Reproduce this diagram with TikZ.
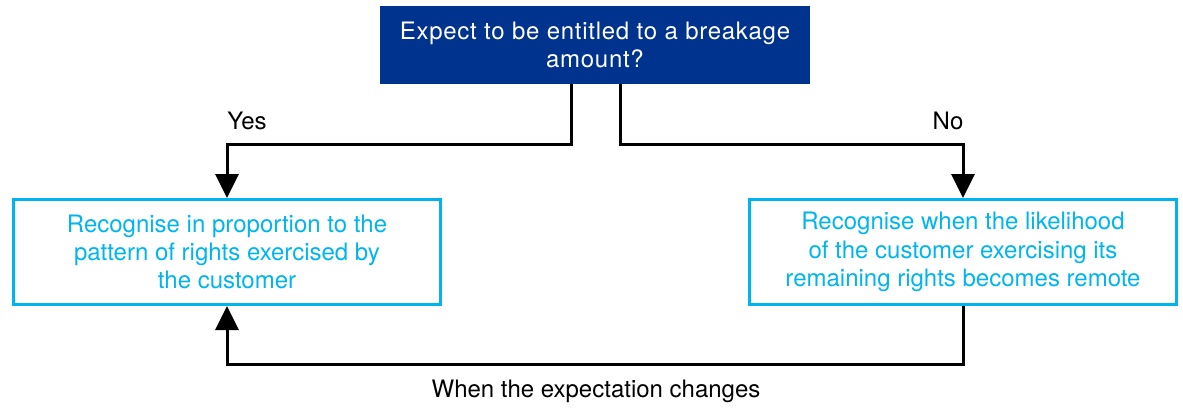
\documentclass[tikz,border=0pt]{standalone}
\usepackage{fontspec}
\setmainfont{TeX Gyre Heros}
\usetikzlibrary{arrows.meta}
\definecolor{headblue}{RGB}{0,51,141}
\definecolor{boxcyan}{RGB}{0,181,239}
\tikzset{
  question/.style={rectangle,fill=headblue,text=white,minimum width=215pt,minimum height=39pt,align=center,font=\fontsize{12}{14}\selectfont\addfontfeature{LetterSpace=3}},
  outcome/.style={rectangle,draw=boxcyan,line width=1.5pt,text=boxcyan,minimum width=213.5pt,minimum height=52.5pt,align=center,font=\fontsize{12}{14.2}\selectfont},
  flow/.style={draw=black,line width=1.5pt,-{Triangle[length=12pt,width=11.5pt]}},
  flowlabel/.style={font=\fontsize{12}{14}\selectfont}
}
\begin{document}
\begin{tikzpicture}[x=0.5pt,y=-0.5pt]
  \useasboundingbox (0,0) rectangle (1183,407);
  % question and the two outcomes
  \node[question] (ask) at (595,45) {Expect to be entitled to a breakage\\amount?};
  \node[outcome] (yes) at (227,252) {Recognise in proportion to the\\pattern of rights exercised by\\the customer};
  \node[outcome] (no) at (963,252) {Recognise when the likelihood\\of the customer exercising its\\remaining rights becomes remote};
  % connectors
  \draw[flow] ([xshift=-12pt]ask.south) -- ++(0,60) -| (yes.north);
  \draw[flow] ([xshift=12.5pt]ask.south) -- ++(0,60) -| (no.north);
  \draw[flow] (no.south) -- ++(0,58) -| (yes.south);
  % labels
  \node[flowlabel] (yeslabel) at (247,121) {Yes};
  \node[flowlabel] (nolabel) at (948,121) {No};
  \node[flowlabel] (changelabel) at (596,391) {When the expectation changes};
\end{tikzpicture}
\end{document}
